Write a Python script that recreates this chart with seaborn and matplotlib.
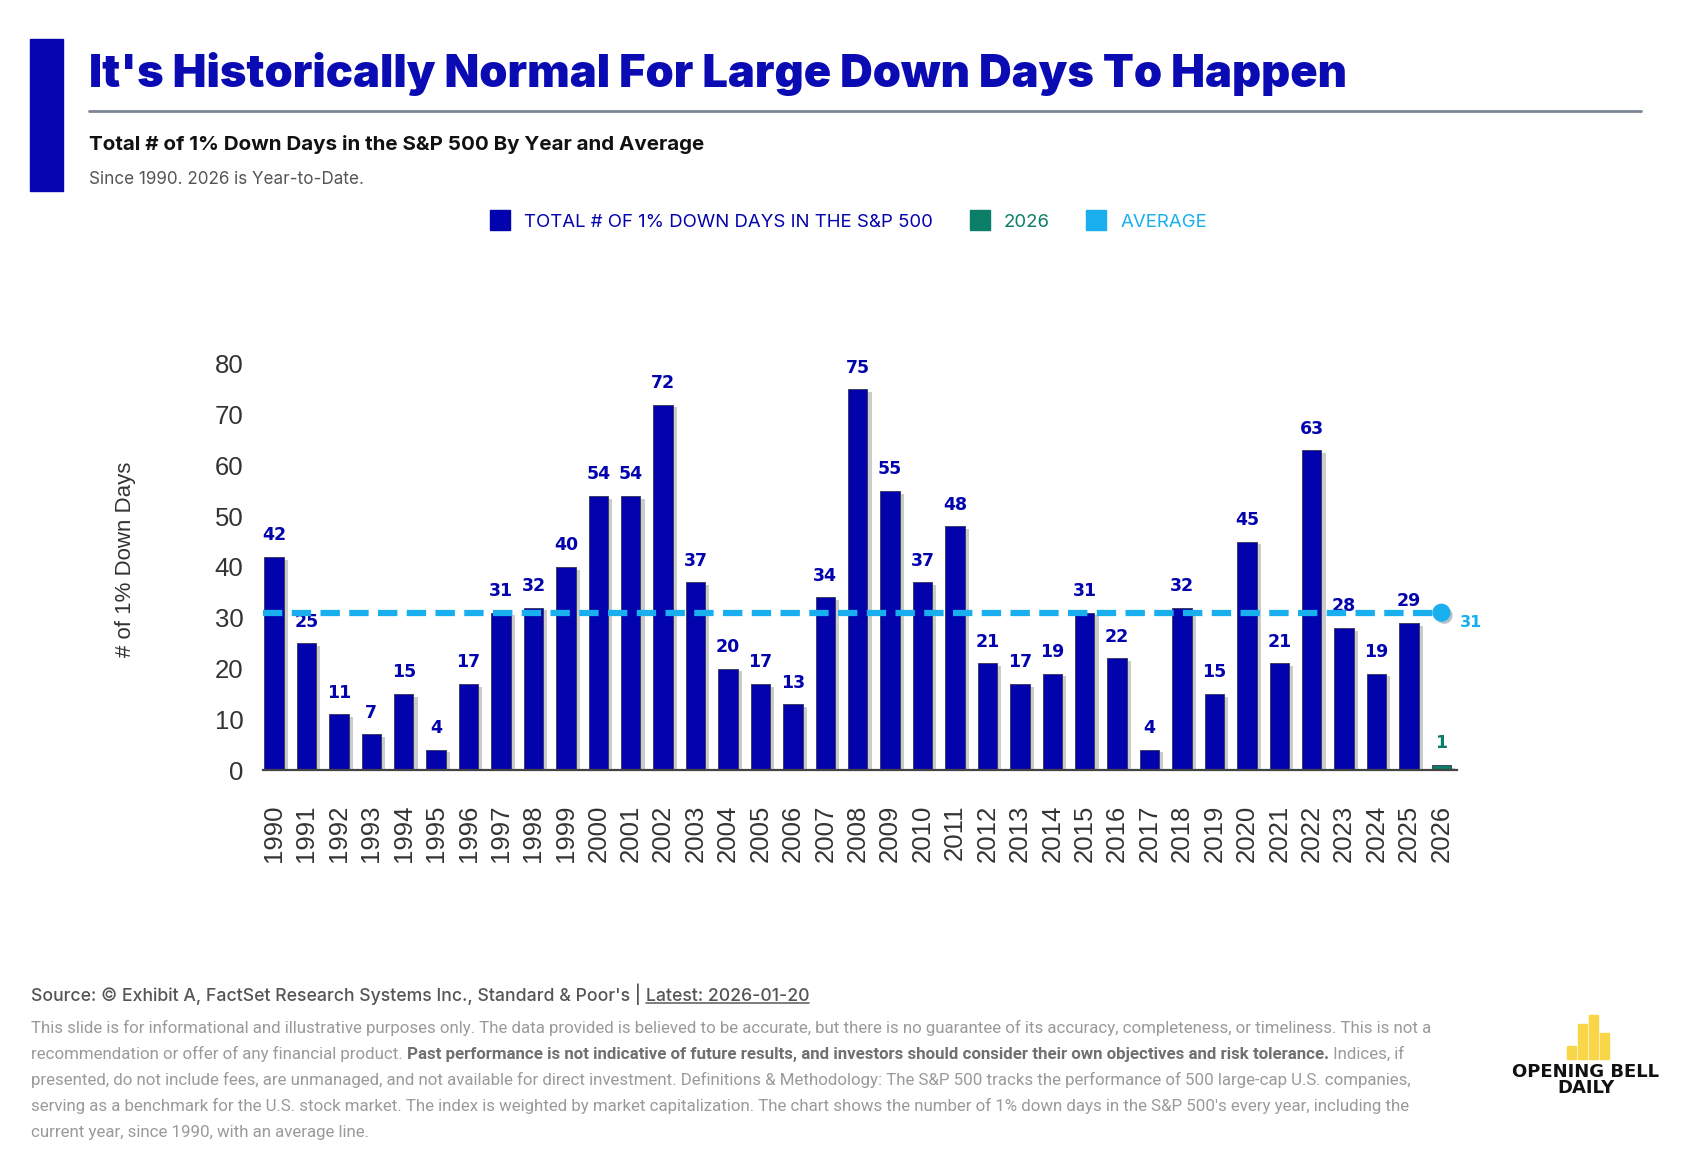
import pandas as pd
import matplotlib
matplotlib.use("Agg")
import matplotlib.pyplot as plt
import matplotlib.patheffects as pe
from matplotlib.lines import Line2D
from matplotlib.patches import Rectangle
import seaborn as sns

# ---- data ----
years = ["1990", "1991", "1992", "1993", "1994", "1995", "1996", "1997", "1998", "1999",
         "2000", "2001", "2002", "2003", "2004", "2005", "2006", "2007", "2008", "2009",
         "2010", "2011", "2012", "2013", "2014", "2015", "2016", "2017", "2018", "2019",
         "2020", "2021", "2022", "2023", "2024", "2025", "2026"]
down_days = [42, 25, 11, 7, 15, 4, 17, 31, 32, 40,
             54, 54, 72, 37, 20, 17, 13, 34, 75, 55,
             37, 48, 21, 17, 19, 31, 22, 4, 32, 15,
             45, 21, 63, 28, 19, 29, 1]
average_days = 31
series_main = "TOTAL # OF 1% DOWN DAYS IN THE S&P 500"
series_ytd = "2026"
series_avg = "AVERAGE"
y_ticks = [0, 10, 20, 30, 40, 50, 60, 70, 80]

NAVY = "#0303AD"
GREEN = "#0A7E66"
CYAN = "#19AEEE"
TITLE_BLUE = "#0B0BB4"

series = [series_ytd if y == "2026" else series_main for y in years]
df = pd.DataFrame({"year": years, "days": down_days, "series": series})

sns.set_theme(style="white")
plt.rcParams["font.family"] = ["Inter", "DejaVu Sans"]

W, H = 1698, 1166
fig = plt.figure(figsize=(W / 100, H / 100), dpi=100)
fig.patch.set_facecolor("white")

# ---- main chart ----
ax = fig.add_axes([263 / W, 1 - 770 / H, (1457 - 263) / W, (770 - 364) / H])
sns.barplot(data=df, x="year", y="days", hue="series",
            palette={series_main: NAVY, series_ytd: GREEN},
            dodge=False, width=0.6, saturation=1, legend=False, ax=ax)

shadow = [pe.SimplePatchShadow(offset=(3, -2), shadow_rgbFace="#555555", alpha=0.3), pe.Normal()]
for bar in ax.patches:
    bar.set_edgecolor("#333355")
    bar.set_linewidth(0.6)
    bar.set_path_effects(shadow)

for cont in ax.containers:
    col = GREEN if cont.patches and cont.patches[0].get_facecolor()[1] > 0.3 else NAVY
    ax.bar_label(cont, padding=9, color=col, fontsize=12.5, fontweight="bold",
                 family="DejaVu Sans")

# average line with end marker
last = len(years) - 1
ax.hlines(average_days, -0.34, last, colors=CYAN, linewidth=4.5,
          linestyles=(0, (3.1, 1.5)), zorder=5)
ax.plot([last], [average_days], "o", color=CYAN, markersize=12, zorder=6,
        path_effects=[pe.SimplePatchShadow(offset=(2, -2), alpha=0.3), pe.Normal()])
ax.annotate(str(average_days), xy=(last, average_days), xytext=(13, -7),
            textcoords="offset points", color=CYAN, fontsize=11.5, fontweight="bold",
            family="DejaVu Sans", va="center")

ax.set_xlim(-0.34, last + 0.48)
ax.set_ylim(0, 80)
ax.set_yticks(y_ticks)
ax.set_xlabel("")
ax.set_ylabel("# of 1% Down Days", fontsize=16, color="#333333", family="Liberation Sans")
ax.yaxis.set_label_coords(-0.106, 0.52)
ax.tick_params(axis="y", labelsize=18.5, labelcolor="#333333", length=0, pad=14)
ax.tick_params(axis="x", labelsize=18.5, labelcolor="#333333", length=0, pad=25,
               labelrotation=90)
for lab in ax.get_xticklabels() + ax.get_yticklabels():
    lab.set_family("Liberation Sans")
for s in ["top", "right", "left"]:
    ax.spines[s].set_visible(False)
ax.spines["bottom"].set_color("#444444")
ax.spines["bottom"].set_linewidth(1.6)

# ---- header ----
fig.add_artist(Rectangle((30 / W, 1 - 191 / H), 33 / W, 152 / H,
                         transform=fig.transFigure, color="#0606B0"))
fig.text(89 / W, 1 - 74 / H, "It's Historically Normal For Large Down Days To Happen",
         fontsize=32.5, fontweight="black", color=TITLE_BLUE, va="center")
fig.add_artist(Line2D([89 / W, 1641 / W], [1 - 111 / H] * 2, color="#7d8594",
                      linewidth=2, transform=fig.transFigure))
fig.text(89 / W, 1 - 145 / H, "Total # of 1% Down Days in the S&P 500 By Year and Average",
         fontsize=14.8, fontweight="bold", color="#111111", va="center")
fig.text(89 / W, 1 - 179 / H, "Since 1990. 2026 is Year-to-Date.",
         fontsize=12.3, color="#555555", va="center")

handles = [Line2D([], [], marker="s", markersize=15, linestyle="none", color=c)
           for c in [NAVY, GREEN, CYAN]]
leg = fig.legend(handles, [series_main, series_ytd, series_avg], loc="center",
                 bbox_to_anchor=(0.5, 1 - 222 / H), ncol=3, frameon=False,
                 fontsize=13.4, handlelength=1, handletextpad=0.8, columnspacing=2.0)
for txt, c in zip(leg.get_texts(), [NAVY, GREEN, CYAN]):
    txt.set_color(c)

# ---- footer ----
ov = fig.add_axes([0, 0, 1, 1])
ov.axis("off")
ov.set_xlim(0, 1)
ov.set_ylim(0, 1)

src = ov.text(31 / W, 1 - 1005 / H,
              "Source: \u00a9 Exhibit A, FactSet Research Systems Inc., Standard & Poor's | ",
              fontsize=12.7, color="#555555", fontweight="medium", va="bottom")
latest = ov.annotate("Latest: 2026-01-20", xy=(1, 0), xycoords=src, va="bottom",
                     fontsize=12.7, color="#555555", fontweight="medium")

GRAY = "#9a9a9a"
FOOT = "Roboto"
FS = 12.2
line_y = [1036, 1062, 1088, 1114, 1140]
disc = [
    "This slide is for informational and illustrative purposes only. The data provided is believed to be accurate, "
    "but there is no guarantee of its accuracy, completeness, or timeliness. This is not a",
    None,
    "presented, do not include fees, are unmanaged, and not available for direct investment. Definitions & Methodology: "
    "The S&P 500 tracks the performance of 500 large-cap U.S. companies,",
    "serving as a benchmark for the U.S. stock market. The index is weighted by market capitalization. The chart shows "
    "the number of 1% down days in the S&P 500's every year, including the",
    "current year, since 1990, with an average line.",
]
for yy, t in zip(line_y, disc):
    if t is not None:
        ov.text(31 / W, 1 - yy / H, t, fontsize=FS, color=GRAY, va="bottom", family=FOOT)
p1 = ov.text(31 / W, 1 - line_y[1] / H, "recommendation or offer of any financial product. ",
             fontsize=FS, color=GRAY, va="bottom", family=FOOT)
p2 = ov.annotate("Past performance is not indicative of future results, and investors should "
                 "consider their own objectives and risk tolerance.", xy=(1, 0), xycoords=p1,
                 va="bottom", fontsize=FS, color="#707070", fontweight="bold", family=FOOT)
ov.annotate(" Indices, if", xy=(1, 0), xycoords=p2, va="bottom", fontsize=FS, color=GRAY,
            family=FOOT)

# logo
logo_heights = [13, 35, 44, 26]
for i, h in enumerate(logo_heights):
    fig.add_artist(Rectangle(((1567 + i * 11) / W, 1 - 1059 / H), 9 / W, h / H,
                             transform=fig.transFigure, color="#F9D648"))
fig.text(1586 / W, 1 - 1072 / H, "OPENING BELL", fontsize=13, fontweight="bold",
         family="DejaVu Sans", ha="center", va="center", color="#111111")
fig.text(1586 / W, 1 - 1088 / H, "DAILY", fontsize=13, fontweight="bold",
         family="DejaVu Sans", ha="center", va="center", color="#111111")

# underline for the "Latest" date
fig.canvas.draw()
bb = latest.get_window_extent()
fig.add_artist(Line2D([bb.x0 / W, bb.x1 / W], [(bb.y0 + 2) / H] * 2, color="#666666",
                      linewidth=1.2, transform=fig.transFigure))

fig.savefig("out.png", dpi=100, facecolor="white")
